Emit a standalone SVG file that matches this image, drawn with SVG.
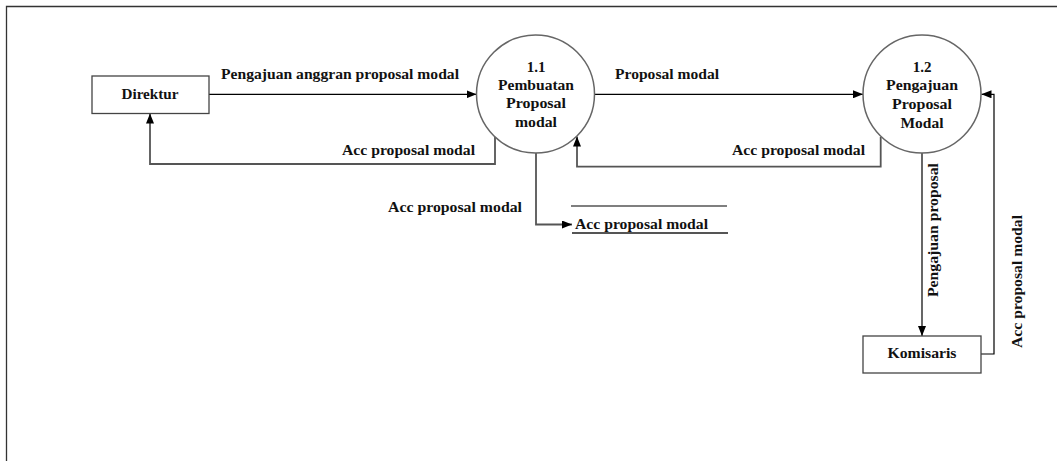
<svg xmlns="http://www.w3.org/2000/svg" width="1057" height="461" viewBox="0 0 1057 461">
<defs>
<marker id="arr" markerUnits="userSpaceOnUse" markerWidth="10" markerHeight="8" refX="10" refY="4" orient="auto">
<path d="M0,0 L10,4 L0,8 z" fill="#000"/>
</marker>
<style>
text{font-family:"Liberation Serif","Times New Roman",serif;font-weight:bold;font-size:15px;fill:#111}
.m{text-anchor:middle}
.ent{fill:#fff;stroke:#444;stroke-width:1.3}
.proc{fill:#fff;stroke:#666;stroke-width:1.5}
.f{fill:none;stroke:#000;stroke-width:1.2;marker-end:url(#arr)}
.g{fill:none;stroke:#555;stroke-width:1.8;marker-end:url(#arr)}
</style>
</defs>
<rect width="1057" height="461" fill="#fff"/>
<path d="M6.5,461 V6.5 H1057" fill="none" stroke="#333" stroke-width="1.3"/>
<g id="connectors">
<path class="f" d="M209,94.3 H476.5"/>
<path class="g" d="M495,137 V164 H150 V113.5"/>
<path class="f" d="M594.5,94.3 H863"/>
<path class="g" d="M880.7,137 V166.7 H577 V136.5"/>
<path class="g" d="M536,153 V224.5 H572"/>
<path class="f" d="M922,153 V336"/>
<path class="f" d="M981,354 H994 V94.3 H981.5"/>
<text x="221" y="79" textLength="238" lengthAdjust="spacingAndGlyphs">Pengajuan anggran proposal modal</text>
<text x="342" y="155" textLength="133" lengthAdjust="spacingAndGlyphs">Acc proposal modal</text>
<text x="615" y="79" textLength="104" lengthAdjust="spacingAndGlyphs">Proposal modal</text>
<text x="732" y="155" textLength="133" lengthAdjust="spacingAndGlyphs">Acc proposal modal</text>
<text x="388" y="212" textLength="134" lengthAdjust="spacingAndGlyphs">Acc proposal modal</text>
<text transform="translate(938,297) rotate(-90)" textLength="134" lengthAdjust="spacingAndGlyphs">Pengajuan proposal</text>
<text transform="translate(1022,348) rotate(-90)" textLength="133" lengthAdjust="spacingAndGlyphs">Acc proposal modal</text>
</g>
<g id="direktur">
<rect class="ent" x="92" y="76" width="117" height="37.5"/>
<text class="m" x="150" y="99" textLength="57" lengthAdjust="spacingAndGlyphs">Direktur</text>
</g>
<g id="p11">
<circle class="proc" cx="535.5" cy="94" r="59"/>
<text class="m" x="536" y="72">1.1</text>
<text class="m" x="536" y="89.5" textLength="76" lengthAdjust="spacingAndGlyphs">Pembuatan</text>
<text class="m" x="536" y="108" textLength="60" lengthAdjust="spacingAndGlyphs">Proposal</text>
<text class="m" x="536" y="127" textLength="42" lengthAdjust="spacingAndGlyphs">modal</text>
</g>
<g id="p12">
<circle class="proc" cx="922" cy="94" r="59"/>
<text class="m" x="922" y="72">1.2</text>
<text class="m" x="922" y="90" textLength="72" lengthAdjust="spacingAndGlyphs">Pengajuan</text>
<text class="m" x="922" y="109" textLength="60" lengthAdjust="spacingAndGlyphs">Proposal</text>
<text class="m" x="922" y="128" textLength="43" lengthAdjust="spacingAndGlyphs">Modal</text>
</g>
<g id="store">
<line x1="571" y1="206" x2="727" y2="206" stroke="#000" stroke-width="1.2"/>
<line x1="572" y1="233" x2="728" y2="233" stroke="#555" stroke-width="1.8"/>
<text x="575" y="228.5" textLength="133" lengthAdjust="spacingAndGlyphs">Acc proposal modal</text>
</g>
<g id="komisaris">
<rect class="ent" x="863" y="336" width="118" height="37"/>
<text class="m" x="922" y="358" textLength="69" lengthAdjust="spacingAndGlyphs">Komisaris</text>
</g>
</svg>
